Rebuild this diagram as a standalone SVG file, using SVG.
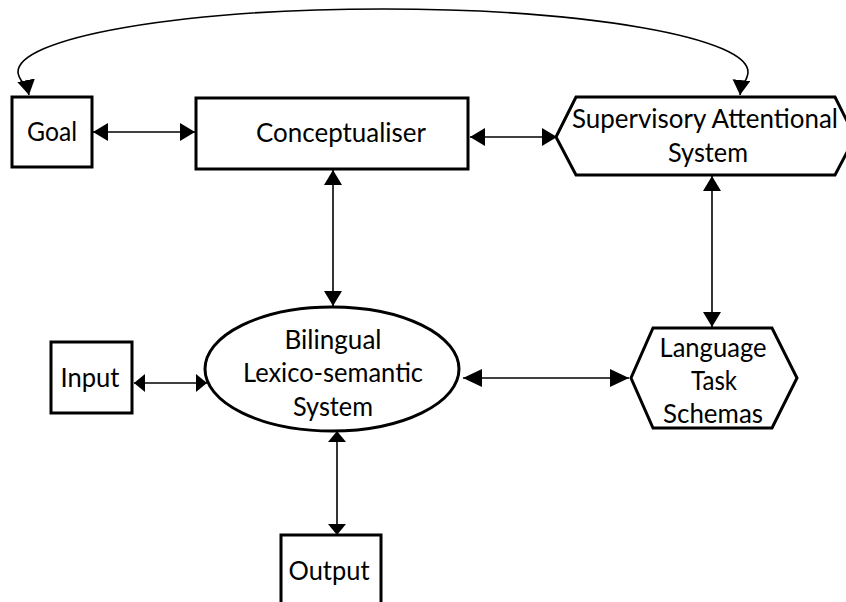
<svg xmlns="http://www.w3.org/2000/svg" width="846" height="602" viewBox="0 0 846 602">
<style>
.box{fill:#fff;stroke:#000;stroke-width:3;stroke-linejoin:miter}
.lbl{font-family:"Lato","Open Sans","Liberation Sans",sans-serif;font-size:26.5px;fill:#000;text-anchor:middle}
.con{fill:none;stroke:#000;stroke-width:1.6}
</style>
<defs>
<marker id="ah" markerUnits="userSpaceOnUse" markerWidth="16" markerHeight="18" refX="15" refY="9" orient="auto-start-reverse" viewBox="0 0 16 18">
<path d="M0,0 L15,9 L0,18 z" fill="#000"/>
</marker>
<marker id="ahb" markerUnits="userSpaceOnUse" markerWidth="20" markerHeight="18" refX="19" refY="9" orient="auto-start-reverse" viewBox="0 0 20 18">
<path d="M0,0 L19,9 L0,18 z" fill="#000"/>
</marker>
<marker id="ahs" markerUnits="userSpaceOnUse" markerWidth="12" markerHeight="18" refX="11" refY="9" orient="auto-start-reverse" viewBox="0 0 12 18">
<path d="M0,0 L11,9 L0,18 z" fill="#000"/>
</marker>
</defs>
<g id="connectors">
<path class="con" d="M29,95 C27,85 18,80 18,72 A365 63 0 0 1 748,72 C748,80 741,85 740,95" marker-start="url(#ah)" marker-end="url(#ah)"/>
<line class="con" x1="93" y1="132" x2="195" y2="132" marker-start="url(#ah)" marker-end="url(#ah)"/>
<line class="con" x1="470" y1="137" x2="557" y2="137" marker-start="url(#ah)" marker-end="url(#ah)"/>
<line class="con" x1="333" y1="170" x2="333" y2="306" marker-start="url(#ah)" marker-end="url(#ah)"/>
<line class="con" x1="712" y1="176" x2="712" y2="327" marker-start="url(#ah)" marker-end="url(#ah)"/>
<line class="con" x1="134" y1="383" x2="207" y2="383" marker-start="url(#ahs)" marker-end="url(#ahs)"/>
<line class="con" x1="463" y1="378" x2="629" y2="378" marker-start="url(#ahb)" marker-end="url(#ahb)"/>
<line class="con" x1="337" y1="431" x2="337" y2="535" marker-start="url(#ahs)" marker-end="url(#ahs)"/>
</g>
<g id="goal">
<rect class="box" x="12" y="97" width="80" height="70"/>
<text class="lbl" x="52" y="141" textLength="50" lengthAdjust="spacingAndGlyphs">Goal</text>
</g>
<g id="conceptualiser">
<rect class="box" x="196" y="98" width="272" height="71"/>
<text class="lbl" x="341" y="142" textLength="170" lengthAdjust="spacingAndGlyphs">Conceptualiser</text>
</g>
<g id="sas">
<polygon class="box" points="576,97 835,97 855,137 835,175 576,175 556,137"/>
<text class="lbl" x="705" y="128" textLength="266" lengthAdjust="spacingAndGlyphs">Supervisory Attentional</text>
<text class="lbl" x="708" y="162" textLength="80" lengthAdjust="spacingAndGlyphs">System</text>
</g>
<g id="bilingual">
<ellipse class="box" cx="332" cy="369" rx="127" ry="62"/>
<text class="lbl" x="333" y="349" textLength="97" lengthAdjust="spacingAndGlyphs">Bilingual</text>
<text class="lbl" x="333" y="382" textLength="180" lengthAdjust="spacingAndGlyphs">Lexico-semantic</text>
<text class="lbl" x="333" y="416" textLength="80" lengthAdjust="spacingAndGlyphs">System</text>
</g>
<g id="input">
<rect class="box" x="51" y="342" width="81" height="71"/>
<text class="lbl" x="90" y="387" textLength="59" lengthAdjust="spacingAndGlyphs">Input</text>
</g>
<g id="lts">
<polygon class="box" points="653,328 772,328 797,378 772,428 653,428 631,378"/>
<text class="lbl" x="713" y="357" textLength="107" lengthAdjust="spacingAndGlyphs">Language</text>
<text class="lbl" x="714" y="390" textLength="46" lengthAdjust="spacingAndGlyphs">Task</text>
<text class="lbl" x="713" y="423" textLength="100" lengthAdjust="spacingAndGlyphs">Schemas</text>
</g>
<g id="output">
<rect class="box" x="281" y="535" width="100" height="80"/>
<text class="lbl" x="329" y="580" textLength="81" lengthAdjust="spacingAndGlyphs">Output</text>
</g>
</svg>
